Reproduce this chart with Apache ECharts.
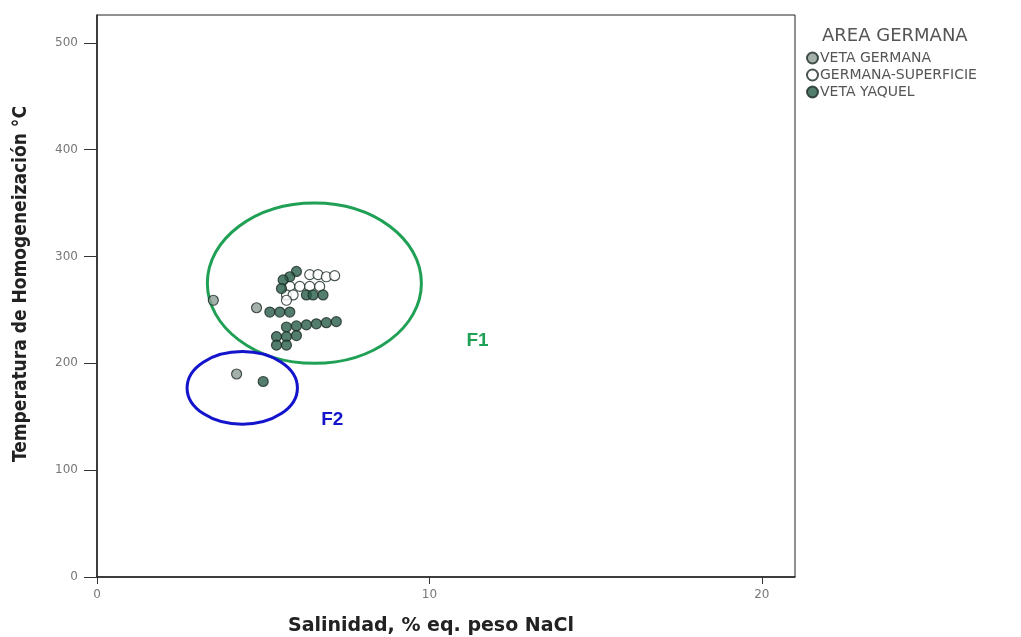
<!DOCTYPE html>
<html>
<head>
<meta charset="utf-8">
<script src="https://cdn.jsdelivr.net/npm/echarts@6/dist/echarts.min.js"></script>
<style>html,body{margin:0;padding:0;background:#fff}#c{width:1021px;height:637px}</style>
</head>
<body>
<div id="c"></div>
<script>
// Salinity (% eq. NaCl), homogenization temperature (°C)
var vetaGermana = [[3.5, 259], [4.8, 252], [4.2, 190]];
var germanaSuperficie = [[6.4, 283], [6.65, 283], [6.9, 281], [7.15, 282], [5.8, 272], [6.1, 272], [6.4, 272], [6.7, 272], [5.7, 264], [5.9, 264], [5.7, 259]];
var vetaYaquel = [[6.0, 286], [5.8, 281], [5.6, 278], [5.55, 270], [6.3, 264], [6.5, 264], [6.8, 264],
  [5.2, 248], [5.5, 248], [5.8, 248],
  [5.7, 234], [6.0, 235], [6.3, 236], [6.6, 237], [6.9, 238], [7.2, 239],
  [5.4, 225], [5.7, 225], [6.0, 226], [5.4, 217], [5.7, 217], [5.0, 183]];
var seriesNames = ['VETA GERMANA', 'GERMANA-SUPERFICIE', 'VETA YAQUEL'];
// groups: [centerX, centerY, radiusX, radiusY]
var groupEllipses = [[6.54, 275, 3.22, 75], [4.37, 177, 1.66, 34]];
var groupLabels = [[11.45, 221, 'F1'], [7.08, 147, 'F2']];
var xTicks = [0, 10, 20];
var yTicks = [0, 100, 200, 300, 400, 500];

var ellipseColors = ['#1fa055', '#1414cc'];
var chart = echarts.init(document.getElementById('c'));
var markerBase = { borderColor: '#1c2a24', borderWidth: 1.2 };
chart.setOption({
  animation: false,
  backgroundColor: '#fff',
  title: { text: 'AREA GERMANA', left: 817, top: 22, textStyle: { fontFamily: 'DejaVu Sans', fontSize: 18, fontWeight: 'normal', color: '#555' } },
  legend: {
    data: seriesNames, orient: 'vertical', left: 801, top: 46, itemGap: 3, itemWidth: 11, itemHeight: 11,
    icon: 'circle', textStyle: { fontFamily: 'DejaVu Sans', fontSize: 14, color: '#555', padding: [0, 0, 0, -3] }
  },
  grid: { left: 97, right: 226, top: 15, bottom: 60, show: true, borderColor: '#222', borderWidth: 1, backgroundColor: '#fff', outerBoundsMode: 'none', containLabel: false },
  xAxis: {
    type: 'value', min: 0, max: 21, interval: 10,
    name: 'Salinidad, % eq. peso NaCl', nameLocation: 'middle', nameGap: 40,
    nameTextStyle: { fontFamily: 'DejaVu Sans', fontWeight: 'bold', fontSize: 19, color: '#222', padding: [0, 30, 0, 0] },
    axisLine: { lineStyle: { color: '#222', width: 1.5 } },
    axisTick: { show: true, length: 7, lineStyle: { color: '#333' }, inside: false },
    axisLabel: { fontFamily: 'DejaVu Sans', fontSize: 12, color: '#777', margin: 12, showMaxLabel: false,
      formatter: function (v) { return xTicks.indexOf(v) >= 0 ? String(v) : ''; } },
    splitLine: { show: false }
  },
  yAxis: {
    type: 'value', min: 0, max: 526, interval: 100,
    name: 'Temperatura de Homogeneización °C', nameLocation: 'middle', nameGap: 66,
    nameTextStyle: { fontFamily: 'DejaVu Sans Condensed, DejaVu Sans', fontWeight: 'bold', fontSize: 19, color: '#222', padding: [0, 0, 0, 24] },
    axisLine: { lineStyle: { color: '#222', width: 1.5 } },
    axisTick: { show: true, length: 13, lineStyle: { color: '#333' } },
    axisLabel: { fontFamily: 'DejaVu Sans', fontSize: 12, color: '#777', margin: 19, showMaxLabel: false,
      formatter: function (v) { return yTicks.indexOf(v) >= 0 ? String(v) : ''; } },
    splitLine: { show: false }
  },
  series: [
    { name: 'VETA GERMANA', type: 'scatter', symbol: 'circle', symbolSize: 10, data: vetaGermana,
      itemStyle: Object.assign({ color: '#8d9d95' }, markerBase) },
    { name: 'GERMANA-SUPERFICIE', type: 'scatter', symbol: 'circle', symbolSize: 10, data: germanaSuperficie,
      itemStyle: Object.assign({ color: '#ffffff' }, markerBase) },
    { name: 'VETA YAQUEL', type: 'scatter', symbol: 'circle', symbolSize: 10, data: vetaYaquel,
      itemStyle: Object.assign({ color: '#285c48' }, markerBase) },
    { name: 'groups', type: 'custom', data: groupEllipses, encode: { x: 0, y: 1 }, silent: true, z: 1,
      renderItem: function (params, api) {
        var c = api.coord([api.value(0), api.value(1)]);
        var s = api.size([api.value(2), api.value(3)]);
        return { type: 'ellipse', shape: { cx: c[0], cy: c[1], rx: s[0], ry: s[1] },
          style: { fill: 'none', stroke: ellipseColors[params.dataIndex], lineWidth: 3 } };
      } },
    { name: 'groupLabels', type: 'custom', data: groupLabels, encode: { x: 0, y: 1 }, silent: true,
      renderItem: function (params, api) {
        var c = api.coord([api.value(0), api.value(1)]);
        return { type: 'text', x: c[0], y: c[1],
          style: { text: groupLabels[params.dataIndex][2], fill: ellipseColors[params.dataIndex], font: 'bold 19px Liberation Sans', align: 'center', verticalAlign: 'middle' } };
      } }
  ]
});
</script>
</body>
</html>
